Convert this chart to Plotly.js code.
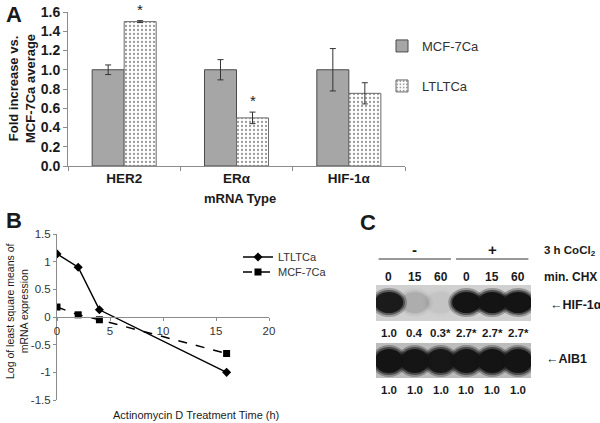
<!DOCTYPE html>
<html>
<head>
<meta charset="utf-8">
<script src="https://cdn.plot.ly/plotly-3.0.1.min.js"></script>
<style>
  html, body { margin: 0; padding: 0; background: #fff; }
  #fig { width: 600px; height: 423px; }
</style>
</head>
<body>
<div id="fig"></div>
<script>
// ---------- Panel A: mRNA fold change ----------
var mrnaTypes   = ["HER2", "ER\u03b1", "HIF-1\u03b1"];
var mcfFold     = [1.0, 1.0, 1.0];
var mcfErr      = [0.05, 0.105, 0.22];
var ltltFold    = [1.5, 0.5, 0.755];
var ltltErr     = [0.01, 0.06, 0.11];
var ltltSignif  = ["*", "*", ""];

// ---------- Panel B: actinomycin D decay ----------
var actHours    = [0, 2, 4, 16];
var ltltLog     = [1.14, 0.9, 0.13, -1.0];
var mcfHours    = [0, 2, 4, 16];
var mcfLog      = [0.18, 0.04, -0.05, -0.66];
var bTickVals   = [-1.5, -1, -0.5, 0, 0.5, 1, 1.5];
var bTickText   = ["-1.5", "-1", "-0.5", "0", "0.5", "1", "1.5"];

// ---------- Panel C: western blot ----------
var chxMin      = ["0", "15", "60", "0", "15", "60"];
var cocl2       = ["-", "+"];
var hifRatio    = ["1.0", "0.4", "0.3*", "2.7*", "2.7*", "2.7*"];
var aibRatio    = ["1.0", "1.0", "1.0", "1.0", "1.0", "1.0"];
var hifBand     = [0.9, 0.1, 0.03, 1.0, 1.0, 1.0];   // band darkness 0..1
var aibBand     = [1.0, 0.97, 0.95, 0.97, 1.0, 1.0];

var W = 600, H = 423;
function px(x) { return x / W; }
function py(y) { return 1 - y / H; }

var FONT = "Liberation Sans, Arial, sans-serif";
var ink = "#1a1a1a";

// ---- traces ----
var traceMcf = {
  type: "bar", name: "MCF-7Ca", x: mrnaTypes, y: mcfFold,
  xaxis: "x", yaxis: "y", legend: "legend",
  marker: { color: "#a6a6a6", line: { color: "#4a4a4a", width: 1 } },
  error_y: { type: "data", array: mcfErr, visible: true, color: "#333", thickness: 1, width: 3 }
};
var traceLtlt = {
  type: "bar", name: "LTLTCa", x: mrnaTypes, y: ltltFold,
  xaxis: "x", yaxis: "y", legend: "legend2",
  marker: {
    color: "#ffffff",
    line: { color: "#6a6a6a", width: 1 },
    pattern: { shape: ".", fgcolor: "#9a9a9a", bgcolor: "#ffffff", size: 4, solidity: 0.25 }
  },
  error_y: { type: "data", array: ltltErr, visible: true, color: "#333", thickness: 1, width: 3 }
};
var traceB1 = {
  type: "scatter", mode: "lines+markers", name: "LTLTCa", x: actHours, y: ltltLog,
  xaxis: "x2", yaxis: "y2", legend: "legend3",
  line: { color: "#000", width: 1.5 },
  marker: { symbol: "diamond", size: 7, color: "#000" }
};
var traceB2 = {
  type: "scatter", mode: "lines+markers", name: "MCF-7Ca", x: mcfHours, y: mcfLog,
  xaxis: "x2", yaxis: "y2", legend: "legend4",
  line: { color: "#000", width: 1.5, dash: "dash" },
  marker: { symbol: "square", size: 7, color: "#000" }
};
// invisible anchor trace for the blot axes
var traceC = {
  type: "scatter", mode: "markers", x: [1, 6], y: [0, 93],
  xaxis: "x3", yaxis: "y3", showlegend: false, hoverinfo: "skip",
  marker: { opacity: 0 }
};

// ---- blot shapes ----
var shapes = [];
shapes.push({ type: "rect", xref: "x3", yref: "y3", x0: 0.5, x1: 6.5, y0: 57, y1: 93,
  fillcolor: "#d0d0d0", line: { width: 0 }, layer: "below" });
shapes.push({ type: "rect", xref: "x3", yref: "y3", x0: 0.5, x1: 6.5, y0: 0, y1: 35,
  fillcolor: "#bcbcbc", line: { width: 0 }, layer: "below" });
function addBands(levels, yc, hh) {
  var rings = [[0.7, 2.5, 0.3], [0.62, 0.5, 0.55], [0.55, -1.5, 1]];
  levels.forEach(function (v, i) {
    var lane = i + 1;
    rings.forEach(function (r) {
      shapes.push({ type: "circle", xref: "x3", yref: "y3",
        x0: lane - r[0], x1: lane + r[0], y0: yc - hh - r[1], y1: yc + hh + r[1],
        fillcolor: "#141414", opacity: v * r[2], line: { width: 0 }, layer: "below" });
    });
  });
}
addBands(hifBand, 75.5, 12);
addBands(aibBand, 17, 13.5);
// header lines for CoCl2 groups
shapes.push({ type: "line", xref: "x3", yref: "paper", x0: 0.6, x1: 3.4, y0: py(259), y1: py(259),
  line: { color: "#333", width: 1 } });
shapes.push({ type: "line", xref: "x3", yref: "paper", x0: 3.6, x1: 6.4, y0: py(259), y1: py(259),
  line: { color: "#333", width: 1 } });

// ---- annotations ----
var ann = [];
function txt(t, x, y, size, opts) {
  var a = { text: t, x: px(x), y: py(y), xref: "paper", yref: "paper", showarrow: false,
    xanchor: "center", yanchor: "middle",
    font: { family: FONT, size: size, color: ink } };
  for (var k in opts) a[k] = opts[k];
  ann.push(a);
}
function laneTxt(t, lane, y, size) {
  ann.push({ text: "<b>" + t + "</b>", x: lane, y: py(y), xref: "x3", yref: "paper",
    xanchor: "center", yanchor: "middle", showarrow: false,
    font: { family: FONT, size: size, color: ink } });
}
// panel letters
txt("<b>A</b>", 4, 14, 22, { xanchor: "left" });
txt("<b>B</b>", 4, 220, 22, { xanchor: "left" });
txt("<b>C</b>", 358, 222, 22, { xanchor: "left" });
// panel A axis titles
txt("<b>Fold increase vs.<br>MCF-7Ca average</b>", 22, 89, 13, { textangle: -90 });
txt("<b>mRNA Type</b>", 240, 198, 13);
// significance stars
ltltSignif.forEach(function (s, i) {
  if (!s) return;
  ann.push({ text: s, x: mrnaTypes[i], y: ltltFold[i] + ltltErr[i], xref: "x", yref: "y",
    xshift: 16, yshift: 1, xanchor: "center", yanchor: "bottom", showarrow: false,
    font: { family: FONT, size: 15, color: ink } });
});
// panel B axis titles
txt("Log of least square means of<br>mRNA expression", 17, 311, 10.5, { textangle: -90 });
txt("Actinomycin D Treatment Time (h)", 196, 415, 11);
// panel C texts
cocl2.forEach(function (s, g) { laneTxt(s, 2 + g * 3, 250, 15); });
chxMin.forEach(function (s, i) { laneTxt(s, i + 1, 277, 12); });
hifRatio.forEach(function (s, i) { laneTxt(s, i + 1, 333, 11.5); });
aibRatio.forEach(function (s, i) { laneTxt(s, i + 1, 390, 11.5); });
txt("<b>3 h CoCl<sub>2</sub></b>", 542, 251, 11.5, { xanchor: "left" });
txt("<b>min. CHX</b>", 542, 277, 12, { xanchor: "left" });
txt("<b>\u2190HIF-1\u03b1</b>", 548, 305, 12.5, { xanchor: "left" });
txt("<b>\u2190AIB1</b>", 544, 359, 12.5, { xanchor: "left" });

var axisGrey = "#8c8c8c";
function leg(x, y, size) {
  return { x: px(x), y: py(y), xanchor: "left", yanchor: "middle",
    bgcolor: "rgba(0,0,0,0)", font: { family: FONT, size: size, color: "#333" },
    itemwidth: 30, borderwidth: 0 };
}
var layout = {
  width: W, height: H,
  margin: { l: 0, r: 0, t: 0, b: 0 },
  paper_bgcolor: "#fff", plot_bgcolor: "rgba(0,0,0,0)",
  font: { family: FONT, color: ink },
  barmode: "group", bargap: 0.43, bargroupgap: 0,
  showlegend: true,
  xaxis: {
    domain: [px(68), px(405)], anchor: "y",
    showline: true, linecolor: axisGrey, linewidth: 1,
    ticks: "outside", tickson: "boundaries", ticklen: 4, tickcolor: axisGrey,
    tickfont: { family: FONT, size: 13.5, weight: "bold", color: ink },
    showgrid: false, fixedrange: true
  },
  yaxis: {
    domain: [py(166), py(12)], anchor: "x", range: [0, 1.6],
    dtick: 0.2, tickformat: ".1f",
    showline: true, linecolor: axisGrey, linewidth: 1,
    ticks: "outside", ticklen: 4, tickcolor: axisGrey,
    tickfont: { family: FONT, size: 14, weight: "bold", color: ink },
    showgrid: false, zeroline: false
  },
  xaxis2: {
    domain: [px(57), px(269)], anchor: "free", position: py(317),
    range: [0, 20], dtick: 5,
    showline: true, linecolor: axisGrey, linewidth: 1,
    ticks: "outside", ticklen: 3, tickcolor: axisGrey,
    tickfont: { family: FONT, size: 11.5, color: "#333" },
    showgrid: false, zeroline: false
  },
  yaxis2: {
    domain: [py(400), py(234)], anchor: "x2", range: [-1.5, 1.5],
    tickmode: "array", tickvals: bTickVals, ticktext: bTickText,
    showline: true, linecolor: axisGrey, linewidth: 1,
    ticks: "outside", ticklen: 3, tickcolor: axisGrey,
    tickfont: { family: FONT, size: 11.5, color: "#333" },
    showgrid: false, zeroline: false
  },
  xaxis3: {
    domain: [px(376), px(531)], anchor: "y3", range: [0.5, 6.5],
    visible: false, fixedrange: true
  },
  yaxis3: {
    domain: [py(378), py(285)], anchor: "x3", range: [0, 93],
    visible: false, fixedrange: true
  },
  legend: leg(382, 46, 13),
  legend2: leg(382, 86, 13),
  legend3: leg(238, 257, 11),
  legend4: leg(238, 272, 11),
  shapes: shapes,
  annotations: ann
};

Plotly.newPlot("fig", [traceMcf, traceLtlt, traceB1, traceB2, traceC], layout,
  { displayModeBar: false, staticPlot: true });
</script>
</body>
</html>
